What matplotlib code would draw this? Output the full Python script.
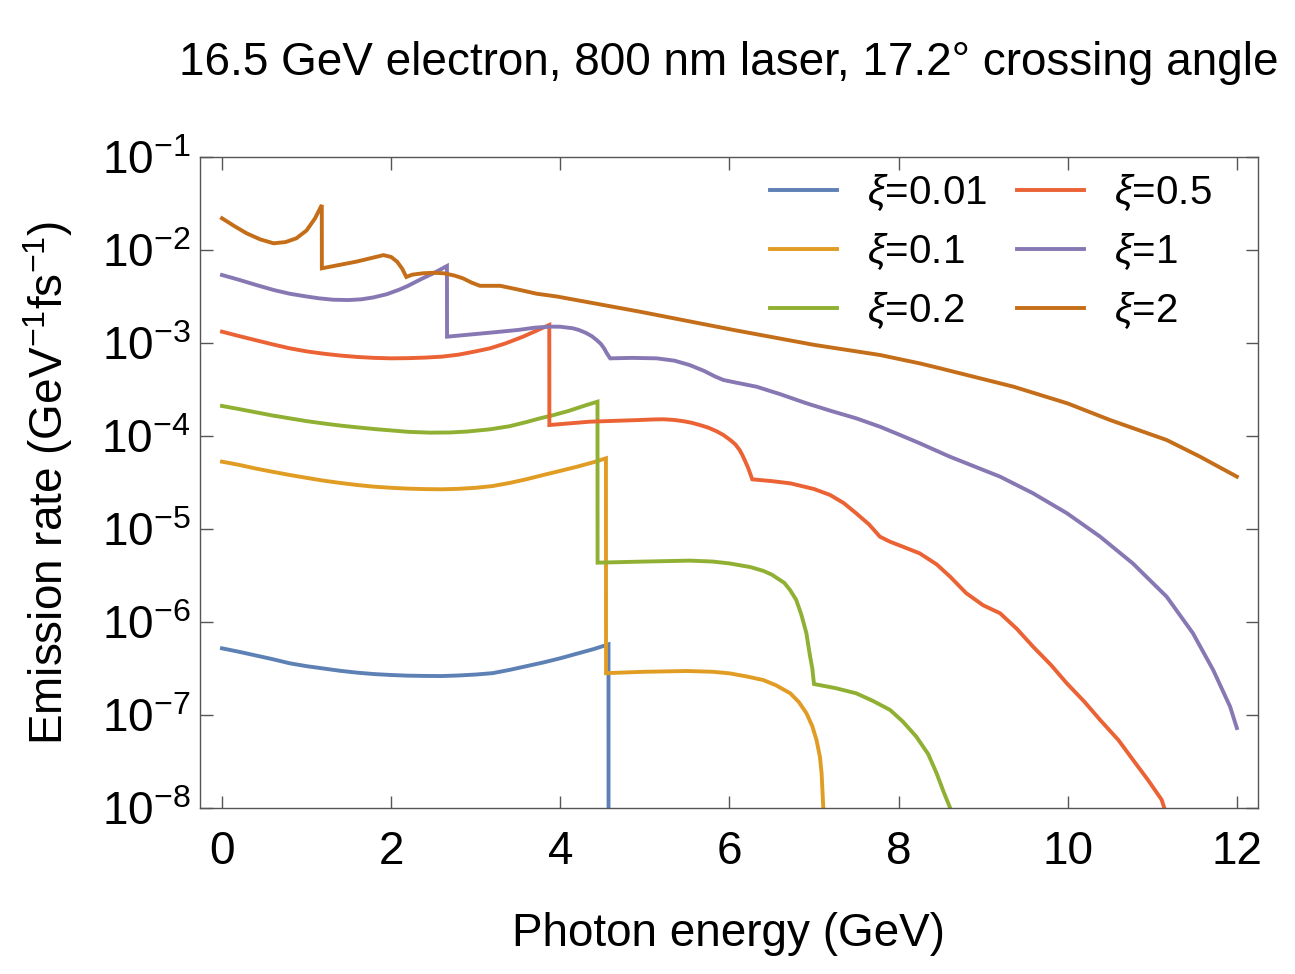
import numpy as np
import matplotlib
matplotlib.use("Agg")
import matplotlib.pyplot as plt
from matplotlib.ticker import LogLocator, NullLocator, LogFormatterMathtext

plt.rcParams['font.family'] = ['Liberation Sans', 'DejaVu Sans']
plt.rcParams['mathtext.fontset'] = 'custom'
plt.rcParams['mathtext.rm'] = 'Liberation Sans'
plt.rcParams['mathtext.it'] = 'Liberation Sans:italic'

# photon energy (GeV) and log10 of emission rate (GeV^-1 fs^-1) for each xi
x_001 = [0, 0.2, 0.4, 0.6, 0.8, 1.0, 1.2, 1.4, 1.6, 1.8, 2.0, 2.2, 2.4, 2.6, 2.8, 3.0,
         3.2, 3.4, 3.6, 3.8, 4.0, 4.2, 4.4, 4.57, 4.571]
lg_001 = [-6.283, -6.32, -6.36, -6.40, -6.444, -6.475, -6.50, -6.525, -6.545, -6.56,
          -6.57, -6.577, -6.58, -6.581, -6.575, -6.565, -6.55, -6.515, -6.475, -6.435,
          -6.39, -6.34, -6.29, -6.24, -9.0]

x_01 = [0, 0.2, 0.4, 0.6, 0.8, 1.0, 1.2, 1.4, 1.6, 1.8, 2.0, 2.2, 2.4, 2.6, 2.8, 3.0,
        3.2, 3.4, 3.6, 3.8, 4.0, 4.2, 4.4, 4.54, 4.541, 5.0, 5.5, 5.8, 6.0, 6.2, 6.4,
        6.55, 6.72, 6.82, 6.91, 6.98, 7.03, 7.07, 7.09, 7.11, 7.115]
lg_01 = [-4.276, -4.31, -4.35, -4.385, -4.419, -4.45, -4.48, -4.505, -4.527, -4.545,
         -4.557, -4.566, -4.571, -4.573, -4.568, -4.557, -4.538, -4.505, -4.465, -4.419,
         -4.375, -4.33, -4.28, -4.24, -6.55, -6.535, -6.527, -6.535, -6.552, -6.585,
         -6.624, -6.68, -6.767, -6.86, -6.98, -7.12, -7.27, -7.45, -7.63, -8.0, -8.1]

x_02 = [0, 0.2, 0.4, 0.6, 0.8, 1.0, 1.2, 1.4, 1.6, 1.8, 2.0, 2.2, 2.46, 2.7, 2.9, 3.17,
        3.4, 3.6, 3.76, 3.9, 4.1, 4.3, 4.44, 4.441, 5.0, 5.53, 5.8, 6.0, 6.25, 6.4,
        6.5, 6.65, 6.72, 6.79, 6.85, 6.91, 6.95, 6.98, 7.0, 7.25, 7.5, 7.7, 7.9, 8.05,
        8.21, 8.35, 8.45, 8.53, 8.61, 8.63]
lg_02 = [-3.677, -3.71, -3.745, -3.78, -3.81, -3.84, -3.865, -3.888, -3.907, -3.925,
         -3.94, -3.955, -3.964, -3.962, -3.952, -3.928, -3.895, -3.85, -3.81, -3.78,
         -3.73, -3.67, -3.631, -5.362, -5.35, -5.34, -5.35, -5.37, -5.41, -5.45, -5.49,
         -5.58, -5.66, -5.763, -5.92, -6.12, -6.35, -6.5, -6.667, -6.71, -6.767, -6.85,
         -6.946, -7.07, -7.233, -7.42, -7.627, -7.82, -8.0, -8.1]

x_05 = [0, 0.2, 0.4, 0.6, 0.8, 1.0, 1.2, 1.4, 1.6, 1.8, 2.0, 2.2, 2.4, 2.6, 2.8, 3.0,
        3.17, 3.35, 3.56, 3.7, 3.87, 3.871, 4.35, 4.94, 5.1, 5.22, 5.35, 5.45, 5.55,
        5.65, 5.75, 5.85, 5.93, 6.01, 6.07, 6.12, 6.15, 6.18, 6.22, 6.27, 6.5, 6.72,
        7.0, 7.19, 7.35, 7.5, 7.65, 7.78, 7.9, 8.05, 8.25, 8.45, 8.61, 8.8, 9.0, 9.2,
        9.4, 9.59, 9.8, 9.99, 10.2, 10.38, 10.6, 10.77, 10.95, 11.11, 11.16]
lg_05 = [-2.878, -2.925, -2.97, -3.015, -3.057, -3.09, -3.115, -3.135, -3.15, -3.16,
         -3.165, -3.163, -3.157, -3.147, -3.125, -3.09, -3.057, -3.005, -2.932, -2.875,
         -2.806, -3.882, -3.846, -3.828, -3.822, -3.82, -3.828, -3.84, -3.857, -3.882,
         -3.91, -3.95, -3.99, -4.043, -4.09, -4.15, -4.2, -4.258, -4.34, -4.466, -4.485,
         -4.509, -4.57, -4.634, -4.72, -4.832, -4.95, -5.083, -5.137, -5.19, -5.262,
         -5.38, -5.513, -5.69, -5.82, -5.906, -6.075, -6.265, -6.46, -6.66, -6.86, -7.05,
         -7.27, -7.48, -7.7, -7.91, -8.05]

x_1 = [0, 0.2, 0.4, 0.61, 0.8, 1.0, 1.15, 1.32, 1.5, 1.65, 1.79, 1.95, 2.1, 2.2, 2.35,
       2.5, 2.66, 2.661, 3.17, 3.5, 3.7, 3.88, 4.0, 4.15, 4.22, 4.3, 4.37, 4.43, 4.48,
       4.52, 4.55, 4.59, 4.85, 5.14, 5.35, 5.53, 5.7, 5.83, 5.93, 6.1, 6.32, 6.6,
       6.91, 7.2, 7.5, 7.78, 8.02, 8.25, 8.6, 9.2, 9.59, 9.99, 10.38, 10.77, 11.17,
       11.48, 11.72, 11.92, 12.0]
lg_1 = [-2.269, -2.32, -2.375, -2.43, -2.47, -2.50, -2.52, -2.535, -2.538, -2.53,
        -2.51, -2.475, -2.425, -2.385, -2.315, -2.25, -2.172, -2.932, -2.889, -2.86,
        -2.835, -2.824, -2.825, -2.842, -2.86, -2.89, -2.925, -2.968, -3.01, -3.06,
        -3.11, -3.165, -3.16, -3.165, -3.19, -3.237, -3.30, -3.36, -3.398, -3.43, -3.47,
        -3.55, -3.648, -3.73, -3.81, -3.90, -3.99, -4.078, -4.22, -4.437, -4.616, -4.83,
        -5.08, -5.37, -5.728, -6.12, -6.516, -6.91, -7.14]

x_2 = [0, 0.15, 0.29, 0.45, 0.61, 0.75, 0.88, 1.0, 1.1, 1.18, 1.181, 1.59, 1.75, 1.91,
       2.0, 2.07, 2.13, 2.18, 2.25, 2.38, 2.5, 2.62, 2.75, 2.85, 2.95, 3.05, 3.29, 3.5,
       3.72, 3.96, 4.94, 6.05, 7.0, 7.78, 8.25, 8.49, 9.36, 10.0, 10.5, 11.17, 11.56,
       12.0]
lg_2 = [-1.659, -1.745, -1.82, -1.885, -1.928, -1.915, -1.874, -1.79, -1.66, -1.516,
        -2.197, -2.125, -2.09, -2.055, -2.075, -2.125, -2.2, -2.29, -2.265, -2.25,
        -2.245, -2.25, -2.275, -2.305, -2.35, -2.385, -2.385, -2.425, -2.47, -2.50,
        -2.663, -2.86, -3.02, -3.129, -3.219, -3.272, -3.47, -3.65, -3.828, -4.043,
        -4.22, -4.437]

labels = [r"$\xi$=0.01", r"$\xi$=0.1", r"$\xi$=0.2", r"$\xi$=0.5", r"$\xi$=1", r"$\xi$=2"]
colors = ["#5E81B5", "#E19C24", "#8FB032", "#EB6235", "#8778B3", "#C56E1A"]
series = [(x_001, lg_001), (x_01, lg_01), (x_02, lg_02),
          (x_05, lg_05), (x_1, lg_1), (x_2, lg_2)]

fig = plt.figure(figsize=(12.95, 9.74), dpi=100)
ax = fig.add_axes([200 / 1295, 1 - 808 / 974, 1058 / 1295, 651 / 974])

for (xs, lg), lab, col in zip(series, labels, colors):
    ax.plot(xs, 10.0 ** np.array(lg), color=col, lw=2.8, label=lab,
            solid_joinstyle='miter')

ax.set_yscale('log')
ax.set_xlim(-0.26, 12.25)
ax.set_ylim(1e-8, 1e-1)
ax.set_xticks([0, 2, 4, 6, 8, 10, 12])
ax.yaxis.set_major_locator(LogLocator(base=10, numticks=20))
ax.yaxis.set_major_formatter(LogFormatterMathtext())
ax.yaxis.set_minor_locator(NullLocator())

frame = "#555555"
for sp in ax.spines.values():
    sp.set_color(frame)
    sp.set_linewidth(1.0)
ax.tick_params(which='major', direction='in', length=9, width=1.0, color=frame,
               top=True, right=True, labelsize=33)
ax.tick_params(axis='x', pad=16)
ax.tick_params(axis='y', pad=7)

ax.set_xlabel("Photon energy (GeV)", fontsize=33)
ax.xaxis.set_label_coords(0.5, -0.16)
ax.set_ylabel(r"Emission rate (GeV$^{-1}$fs$^{-1}$)", fontsize=33)
ax.yaxis.set_label_coords(-0.118, 0.5)

fig.text(729 / 1295, 1 - 63 / 974, u"16.5 GeV electron, 800 nm laser, 17.2\u00b0 crossing angle",
         ha='center', va='center', fontsize=33)

ax.legend(ncol=2, loc='upper left', bbox_to_anchor=(0.539, 0.976), frameon=False,
          fontsize=29, handlelength=1.65, handletextpad=0.75, columnspacing=0.75,
          labelspacing=0.48, borderpad=0, borderaxespad=0)

fig.savefig("out.png", dpi=100)
